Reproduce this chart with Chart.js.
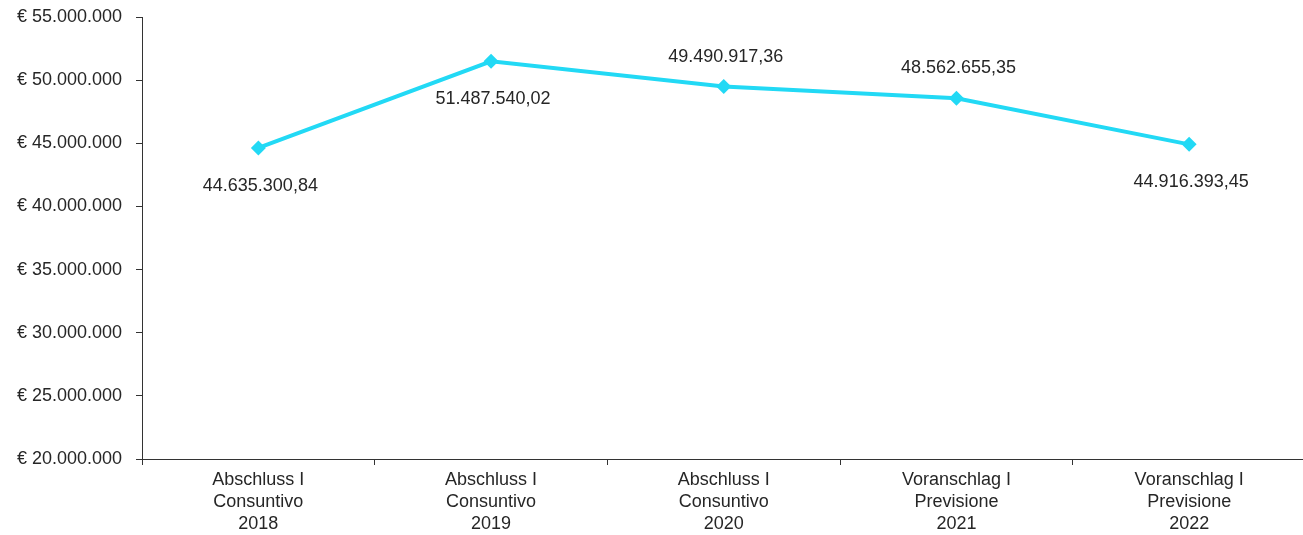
<!DOCTYPE html>
<html>
<head>
<meta charset="utf-8">
<script src="https://cdn.jsdelivr.net/npm/chart.js@4.4.1/dist/chart.umd.min.js"></script>
<style>
  html, body { margin: 0; padding: 0; background: #fff; overflow: hidden; }
  #wrap { width: 1313px; height: 535px; position: relative; }
</style>
</head>
<body>
<div id="wrap"><canvas id="chart"></canvas></div>
<script>
  const categories = [
    ['Abschluss I', 'Consuntivo', '2018'],
    ['Abschluss I', 'Consuntivo', '2019'],
    ['Abschluss I', 'Consuntivo', '2020'],
    ['Voranschlag I', 'Previsione', '2021'],
    ['Voranschlag I', 'Previsione', '2022'],
  ];
  const amounts = [44635300.84, 51487540.02, 49490917.36, 48562655.35, 44916393.45];
  // where each value label sits relative to its point
  const labelSide = ['below', 'below', 'above', 'above', 'below'];

  const Y_MIN = 20000000;
  const Y_MAX = 55000000;
  const Y_STEP = 5000000;

  const FONT = '"Liberation Sans", Arial, sans-serif';
  const TEXT = '#262626';
  const LINE = '#22d9f5';

  // 1234567.8 -> "1.234.567,80"
  function euroNumber(value, decimals) {
    const fixed = Math.abs(value).toFixed(decimals);
    const [intPart, decPart] = fixed.split('.');
    const grouped = intPart.replace(/\B(?=(\d{3})+(?!\d))/g, '.');
    return (value < 0 ? '-' : '') + grouped + (decPart ? ',' + decPart : '');
  }

  const valueLabels = {
    id: 'valueLabels',
    afterDatasetsDraw(chart) {
      const { ctx } = chart;
      const meta = chart.getDatasetMeta(0);
      ctx.save();
      ctx.font = '18px ' + FONT;
      ctx.fillStyle = TEXT;
      ctx.textAlign = 'center';
      ctx.textBaseline = 'middle';
      meta.data.forEach((pt, i) => {
        const dy = labelSide[i] === 'above' ? -30 : 38;
        ctx.fillText(euroNumber(amounts[i], 2), pt.x + 2, pt.y + dy);
      });
      ctx.restore();
    },
  };

  new Chart(document.getElementById('chart'), {
    type: 'line',
    data: {
      labels: categories,
      datasets: [{
        data: amounts,
        borderColor: LINE,
        backgroundColor: LINE,
        borderWidth: 4,
        tension: 0,
        pointStyle: 'rectRot',
        pointRadius: 7.5,
        pointHoverRadius: 7.5,
        pointBorderWidth: 0,
      }],
    },
    options: {
      responsive: true,
      maintainAspectRatio: false,
      animation: false,
      events: [],
      layout: { padding: { top: 17, right: 0, left: 0, bottom: 0 } },
      plugins: { legend: { display: false }, tooltip: { enabled: false } },
      scales: {
        x: {
          offset: true,
          afterFit: (s) => {
            s.height = 76;
            s.paddingLeft = 0;
            s.paddingRight = 0;
          },
          border: { color: '#333', width: 1 },
          grid: { offset: true, drawOnChartArea: false, drawTicks: true, tickLength: 6, color: '#333' },
          ticks: {
            color: TEXT,
            font: { family: FONT, size: 18, lineHeight: 1.22 },
            maxRotation: 0,
            autoSkip: false,
            padding: 4,
          },
        },
        y: {
          min: Y_MIN,
          max: Y_MAX,
          afterFit: (s) => {
            s.width = 142;
            s.paddingTop = 0;
            s.paddingBottom = 0;
          },
          border: { color: '#333', width: 1 },
          grid: { drawOnChartArea: false, drawTicks: true, tickLength: 6, color: '#333' },
          ticks: {
            stepSize: Y_STEP,
            color: TEXT,
            font: { family: FONT, size: 18 },
            padding: 14,
            callback: (v) => '€ ' + euroNumber(v, 0),
          },
        },
      },
    },
    plugins: [valueLabels],
  });
</script>
</body>
</html>
